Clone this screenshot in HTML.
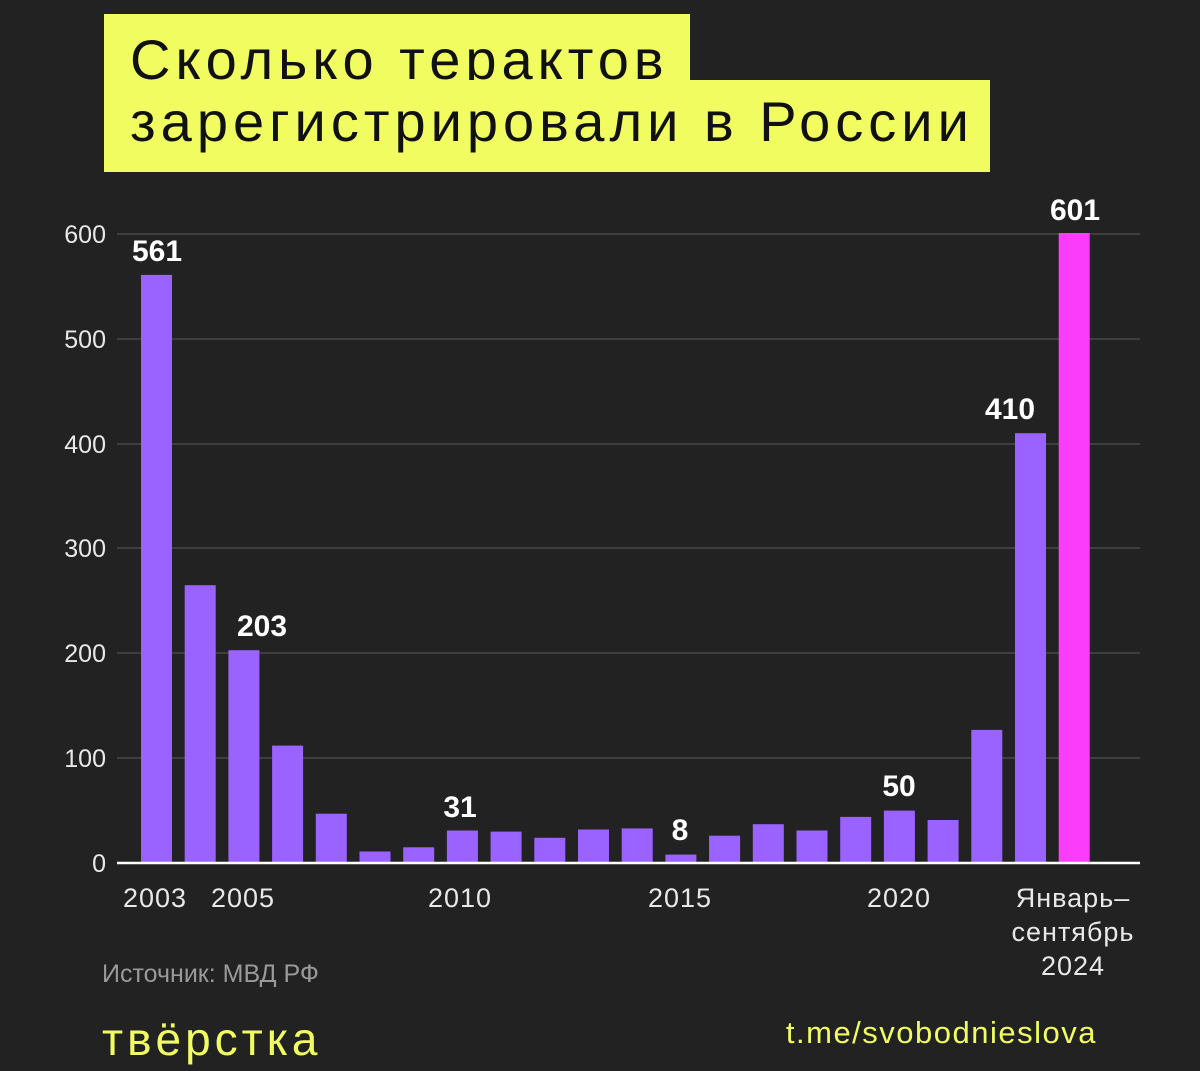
<!DOCTYPE html>
<html><head><meta charset="utf-8"><style>
body{margin:0;background:#222222;}
#c{position:relative;width:1200px;height:1071px;background:#222222;overflow:hidden;font-family:"Liberation Sans","DejaVu Sans",sans-serif;}
.t{position:absolute;background:#f0fc60;color:#111;font-size:56px;line-height:1;letter-spacing:5px;}
</style></head><body><div id="c">
<div class="t" style="left:104px;top:14px;width:586px;height:66px;"><span style="position:absolute;left:26px;top:18px;">Сколько терактов</span></div>
<div class="t" style="left:104px;top:80px;width:886px;height:92px;"><span style="position:absolute;left:26px;top:14px;">зарегистрировали в России</span></div>
<svg width="1200" height="1071" style="position:absolute;left:0;top:0" font-family="Liberation Sans, DejaVu Sans, sans-serif">
<g stroke="#5a5a5a" stroke-width="1">
<line x1="117" x2="1140" y1="234" y2="234"/><line x1="117" x2="1140" y1="339" y2="339"/>
<line x1="117" x2="1140" y1="444" y2="444"/><line x1="117" x2="1140" y1="548" y2="548"/>
<line x1="117" x2="1140" y1="653" y2="653"/><line x1="117" x2="1140" y1="758" y2="758"/>
</g>
<g fill="#e8e8e8" font-size="25" text-anchor="end">
<text x="106" y="243">600</text><text x="106" y="348">500</text><text x="106" y="453">400</text>
<text x="106" y="557">300</text><text x="106" y="662">200</text><text x="106" y="767">100</text><text x="106" y="872">0</text>
</g>
<g id="bars"></g>
<line x1="117" x2="1140" y1="863" y2="863" stroke="#fff" stroke-width="2.5"/>
<g fill="#fff" font-size="30" font-weight="bold" text-anchor="middle">
<text x="157" y="261">561</text><text x="262" y="636">203</text><text x="460" y="817">31</text>
<text x="680" y="840">8</text><text x="899" y="796">50</text><text x="1010" y="419">410</text><text x="1075" y="220">601</text>
</g>
<g fill="#e8e8e8" font-size="27" text-anchor="middle" letter-spacing="1">
<text x="155" y="907">2003</text><text x="243" y="907">2005</text><text x="460" y="907">2010</text>
<text x="680" y="907">2015</text><text x="899" y="907">2020</text>
<text x="1073" y="907">Январь–</text><text x="1073" y="941">сентябрь</text><text x="1073" y="975">2024</text>
</g>
<text x="102" y="982" fill="#9a9a9a" font-size="25">Источник: МВД РФ</text>
<text x="102" y="1055" fill="#f0fc60" font-size="46" letter-spacing="4">твёрстка</text>
<text x="1097" y="1043" fill="#f0fc60" font-size="31" text-anchor="end" letter-spacing="1.5">t.me/svobodnieslova</text>
</svg>
<script>
var v=[561,265,203,112,47,11,15,31,30,24,32,33,8,26,37,31,44,50,41,127,410,601];
var g=document.getElementById('bars'),s='';
for(var i=0;i<v.length;i++){var x=141+i*43.7,h=v[i]*1.0483;
s+='<rect x="'+x.toFixed(1)+'" y="'+(863-h).toFixed(1)+'" width="31" height="'+h.toFixed(1)+'" fill="'+(i==21?'#fb3cfb':'#9a63ff')+'"/>';}
g.innerHTML=s;
</script>
</div></body></html>
